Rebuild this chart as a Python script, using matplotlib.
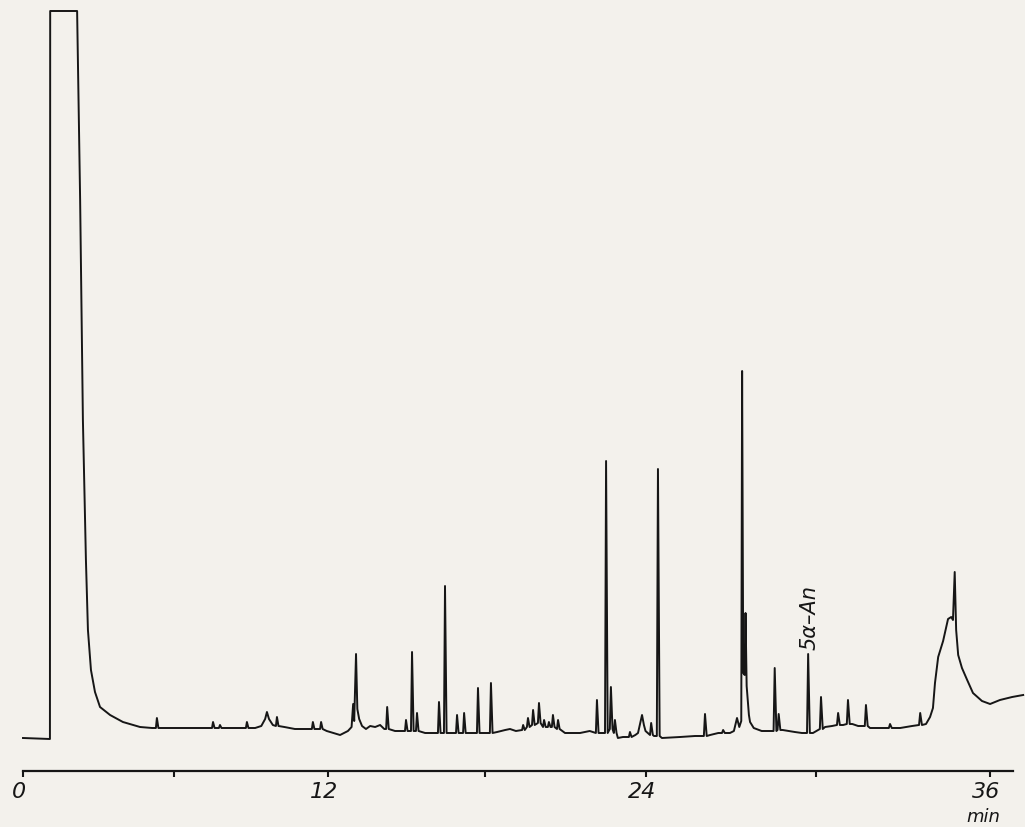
import matplotlib
matplotlib.use("Agg")
import matplotlib.pyplot as plt
import numpy as np
from matplotlib.transforms import ScaledTranslation

# Retention time axis (min). The scanned chart paper is slightly stretched,
# so tick marks sit at these measured paper positions.
TICK_MIN = [0, 6, 12, 18, 24, 30, 36]
TICK_LABELS = ["0", "", "12", "", "24", "", "36"]
TICK_PAPER = [23, 174, 328, 485, 646, 816, 990]

# Baseline, solvent front and the broad late hump (time in min, detector units)
trace_t = [0.00, 1.07, 1.08, 2.15, 2.27, 2.38, 2.50, 2.58, 2.70, 2.86, 3.06,
           3.46, 3.97, 4.65, 5.13, 5.60, 6.04, 7.20, 8.55, 9.16,
           9.40, 9.55, 9.62, 9.70, 9.85, 10.30, 10.71, 11.95, 12.46, 12.76,
           12.90, 12.96, 13.00, 13.07, 13.12, 13.19, 13.30, 13.45, 13.61, 13.80,
           13.99, 14.15, 14.56, 15.71, 16.70, 17.43, 17.96, 18.45, 18.75, 18.93,
           19.15, 20.98, 21.54, 21.90, 22.30, 22.95, 23.14, 23.60,
           23.70, 23.80, 23.85, 23.92, 23.98, 24.28, 24.56, 25.20, 25.73, 26.26,
           26.55, 26.96,
           27.10, 27.21, 27.29, 27.36, 27.39, 27.43, 27.48, 27.51, 27.55, 27.58,
           27.63, 27.67, 27.80, 28.08, 28.30, 28.82, 29.25, 29.50, 29.89, 30.31,
           30.55, 30.93, 31.25, 31.45, 31.86, 32.21, 32.90, 33.31, 33.79,
           33.93, 34.03, 34.10, 34.21, 34.38, 34.55, 34.66, 34.72, 34.78, 34.83,
           34.90, 35.03, 35.21, 35.41, 35.72, 36.00, 36.34, 36.76, 37.14]
trace_s = [33, 32, 760, 760, 571, 351, 211, 141, 101, 79, 64,
           56, 49, 44, 43, 43, 43, 43, 43, 43,
           45, 52, 59, 52, 46, 44, 42, 40, 36, 40,
           44, 67, 50, 117, 62, 52, 45, 42, 45, 44,
           46, 42, 40, 38, 38, 38, 38, 39, 41, 42,
           40, 38, 38, 40, 38, 33, 34, 36,
           38, 50, 56, 46, 40, 35, 33, 34, 35, 36,
           38, 38,
           40, 53, 44, 50, 400, 98, 96, 158, 85, 74,
           56, 49, 43, 40, 40, 41, 39, 38, 38, 44,
           45, 46, 47, 45, 43, 43, 43, 45, 47,
           54, 63, 88, 114, 130, 152, 154, 151, 199, 141,
           116, 103, 91, 78, 70, 67, 71, 74, 76]

# Sharp peaks: retention time, apex height, local baseline
peak_t = [5.32, 7.52, 7.79, 8.84, 10.01, 11.41, 11.73, 14.26, 14.98, 15.21,
          15.40, 16.24, 16.47, 16.93, 17.20, 17.73, 18.22, 19.42, 19.60, 19.79,
          20.01, 20.20, 20.38, 20.53, 20.72, 22.17, 22.51, 22.69, 22.84, 23.40,
          24.18, 24.42, 26.08, 26.72, 28.54, 28.68, 29.72, 30.17, 30.76, 31.10,
          31.72, 32.55, 33.59]
peak_h = [53, 49, 46, 49, 54, 49, 49, 64, 51, 119,
          58, 69, 185, 56, 58, 83, 88, 46, 53, 61,
          68, 51, 49, 56, 51, 71, 310, 84, 51, 39,
          48, 302, 57, 41, 103, 57, 117, 74, 58, 71,
          66, 47, 58]
peak_base = [43, 43, 43, 43, 45, 42, 42, 42, 40, 40,
             40, 38, 38, 38, 38, 38, 38, 41, 44, 46,
             48, 44, 44, 44, 42, 38, 38, 42, 38, 34,
             36, 35, 35, 38, 40, 41, 38, 42, 46, 47,
             45, 43, 46]

PAPER = "#f3f1ec"
INK = "#161616"

cal_t = [-6] + TICK_MIN + [42]
cal_p = [-128] + TICK_PAPER + [1164]


def to_paper(x):
    return np.interp(x, cal_t, cal_p)


def from_paper(p):
    return np.interp(p, cal_p, cal_t)


fig = plt.figure(figsize=(10.25, 8.27), dpi=100, facecolor=PAPER)
ax = fig.add_axes([23 / 1025, 56 / 827, 990 / 1025, 771 / 827])
ax.set_facecolor(PAPER)
ax.set_xscale("function", functions=(to_paper, from_paper))
ax.set_xlim(0, 36.79)
ax.set_ylim(0, 771)

pt = np.array(peak_t)
t_all = np.concatenate([trace_t, pt - 0.04, pt, pt + 0.06])
s_all = np.concatenate([trace_s, peak_base, peak_h, peak_base])
order = np.argsort(t_all, kind="stable")
ax.plot(t_all[order], s_all[order], color=INK, lw=1.4,
        solid_joinstyle="round", clip_on=False)

for side in ("left", "right", "top"):
    ax.spines[side].set_visible(False)
ax.spines["bottom"].set_linewidth(1.6)
ax.spines["bottom"].set_color(INK)
ax.set_yticks([])
ax.set_xticks(TICK_MIN)
ax.set_xticklabels(TICK_LABELS, fontsize=16, fontstyle="italic", color=INK)
ax.tick_params(axis="x", direction="out", length=4, width=1.5, pad=4, color=INK)
shift = ScaledTranslation(-4 / 100, 0, fig.dpi_scale_trans)
for lab in ax.get_xticklabels():
    lab.set_transform(lab.get_transform() + shift)

ax.annotate("min", xy=(36, 0), xytext=(-5, -33), textcoords="offset points",
            ha="center", va="center", fontsize=13, fontstyle="italic",
            color=INK, annotation_clip=False)
ax.text(29.78, 121, "5α–An", rotation=90, ha="center", va="bottom",
        fontsize=15, fontstyle="italic", color=INK)

fig.savefig("out.png", dpi=100, facecolor=PAPER)
